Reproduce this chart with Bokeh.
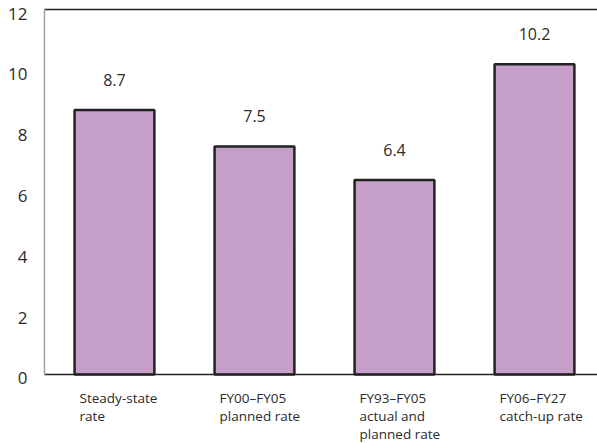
from bokeh.plotting import figure
from bokeh.models import ColumnDataSource, Range1d
from bokeh.core.properties import value
from bokeh.embed import file_html
from bokeh.resources import INLINE

categories = ["Steady-state\nrate", "FY00\u2013FY05\nplanned rate",
              "FY93\u2013FY05\nactual and\nplanned rate", "FY06\u2013FY27\ncatch-up rate"]
values = [8.7, 7.5, 6.4, 10.2]
y_ticks = [0, 2, 4, 6, 8, 10, 12]

BAR_W = 0.57
X_MIN, X_MAX = -0.314, 3.95
Y_MIN, Y_MAX = -2.27, 12.3
AX_TOP = 12
xs = [i + 0.5 for i in range(len(categories))]
src = ColumnDataSource(dict(
    x=xs,
    top=values,
    vlabel=[f"{v:.1f}" for v in values],
))

# one row per text line of the category labels (placed below the zero line)
line_x, line_txt, line_off = [], [], []
for x, cat in zip(xs, categories):
    for j, ln in enumerate(cat.split("\n")):
        line_x.append(x - BAR_W / 2)
        line_txt.append(ln)
        line_off.append(24 + 18 * j)
cat_src = ColumnDataSource(dict(x=line_x, y=[0] * len(line_x), t=line_txt, off=line_off))

tick_src = ColumnDataSource(dict(x=[0] * len(y_ticks), y=y_ticks, t=[str(t) for t in y_ticks]))

FONT = "Open Sans"
TXT = "#2b2b2b"

p = figure(width=597, height=443, output_backend="svg", toolbar_location=None,
           x_range=Range1d(X_MIN, X_MAX), y_range=Range1d(Y_MIN, Y_MAX),
           min_border=0, x_axis_location=None, y_axis_location=None)
p.grid.visible = False
p.outline_line_color = None
p.background_fill_color = "white"
p.border_fill_color = "white"

p.vbar(x="x", top="top", bottom=0, width=BAR_W, source=src,
       fill_color="#C69FC9", line_color="#222222", line_width=2.5)

# frame lines: zero line, top line, left axis line
p.segment(x0=[0], y0=[0], x1=[X_MAX], y1=[0], line_color="#222222", line_width=1.5)
p.segment(x0=[0], y0=[AX_TOP], x1=[X_MAX], y1=[AX_TOP], line_color="#222222", line_width=1.5)
p.segment(x0=[0], y0=[0], x1=[0], y1=[AX_TOP], line_color="#a0a0a0", line_width=1.5)

# y tick labels
p.text(x="x", y="y", text="t", source=tick_src, x_offset=-17, y_offset=4,
       text_align="right", text_baseline="middle",
       text_font=value(FONT), text_font_size="17px", text_color=TXT)

# value labels
p.text(x="x", y="top", text="vlabel", source=src, y_offset=-30,
       text_align="center", text_baseline="middle",
       text_font=value(FONT), text_font_size="16px", text_color=TXT)

# category labels
p.text(x="x", y="y", text="t", source=cat_src, x_offset=5, y_offset="off",
       text_align="left", text_baseline="middle",
       text_font=value(FONT), text_font_size="13.5px", text_color=TXT)

open("out.html", "w").write(file_html(p, INLINE))
